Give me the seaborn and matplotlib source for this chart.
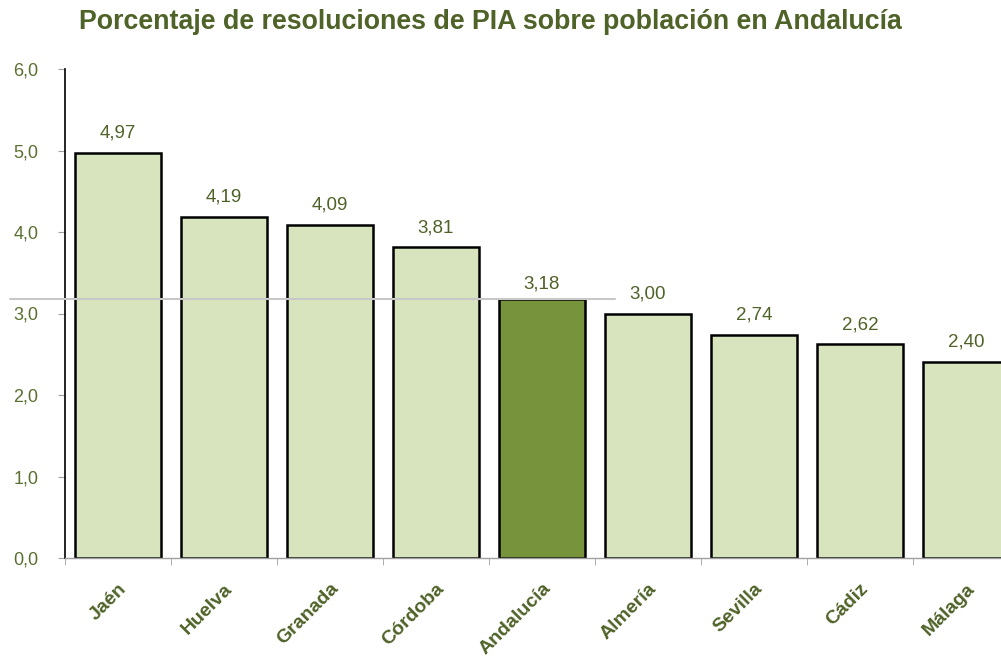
import pandas as pd
import matplotlib.pyplot as plt
import seaborn as sns

# Datos
provincias = ['Jaén', 'Huelva', 'Granada', 'Córdoba', 'Andalucía', 'Almería', 'Sevilla', 'Cádiz', 'Málaga']
porcentaje = [4.97, 4.19, 4.09, 3.81, 3.18, 3.00, 2.74, 2.62, 2.40]
yticks = [0, 1, 2, 3, 4, 5, 6]

verde_claro = '#D7E4BD'
verde_oscuro = '#77933C'
texto = '#4F6228'

df = pd.DataFrame({'provincia': provincias, 'valor': porcentaje})
colores = [verde_oscuro if p == 'Andalucía' else verde_claro for p in provincias]

sns.set_style('white')
plt.rcParams['font.family'] = ['Liberation Sans', 'DejaVu Sans']

fig = plt.figure(figsize=(10.01, 6.58), dpi=100)
# el gráfico original está recortado por la derecha
ax = fig.add_axes([65 / 1001, 1 - 558 / 658, 954 / 1001, 489 / 658])

sns.barplot(data=df, x='provincia', y='valor', hue='provincia', palette=colores,
            legend=False, width=0.82, edgecolor='black', linewidth=1.8, ax=ax, saturation=1)

ax.set_xlim(-0.5, len(provincias) - 0.5)
ax.set_ylim(0, 6)
ax.set_yticks(yticks)
ax.set_yticklabels([f'{v:.1f}'.replace('.', ',') for v in yticks], color='#5A7030', fontsize=13)

# línea de referencia en la media de Andalucía
ax.axhline(porcentaje[4], xmin=-0.058, xmax=0.577, color='#C8C8C8', linewidth=1.5,
           clip_on=False, zorder=5)

for i, v in enumerate(porcentaje):
    off = 0.08 if provincias[i] == 'Andalucía' else 0.14
    ax.text(i, v + off, f'{v:.2f}'.replace('.', ','), ha='center', va='bottom',
            color=texto, fontsize=13.5, zorder=4)

ax.set_xticks(range(len(provincias)))
ax.set_xticklabels(provincias, rotation=45, ha='right', rotation_mode='anchor',
                   fontsize=14, fontweight='bold', color=texto)
ax.tick_params(axis='x', length=0, pad=16)
for lbl in ax.get_xticklabels():
    lbl.set_x(lbl.get_position()[0])
ax.set_xticks([i - 0.5 for i in range(len(provincias) + 1)], minor=True)
ax.tick_params(axis='x', which='minor', length=5, color='#A0A0A0', direction='out', bottom=True)
ax.tick_params(axis='y', length=5, color='#A0A0A0', direction='out', left=True, pad=14)

ax.set_xlabel('')
ax.set_ylabel('')
for s in ['top', 'right']:
    ax.spines[s].set_visible(False)
ax.spines['left'].set_color('black')
ax.spines['left'].set_linewidth(1.2)
ax.spines['bottom'].set_color('#A0A0A0')
ax.spines['bottom'].set_linewidth(1)

fig.text(490 / 1001, 1 - 22 / 658, 'Porcentaje de resoluciones de PIA sobre población en Andalucía',
         ha='center', va='center', fontsize=19.3, fontweight='bold', color=texto)

fig.savefig('out.png', dpi=100)
